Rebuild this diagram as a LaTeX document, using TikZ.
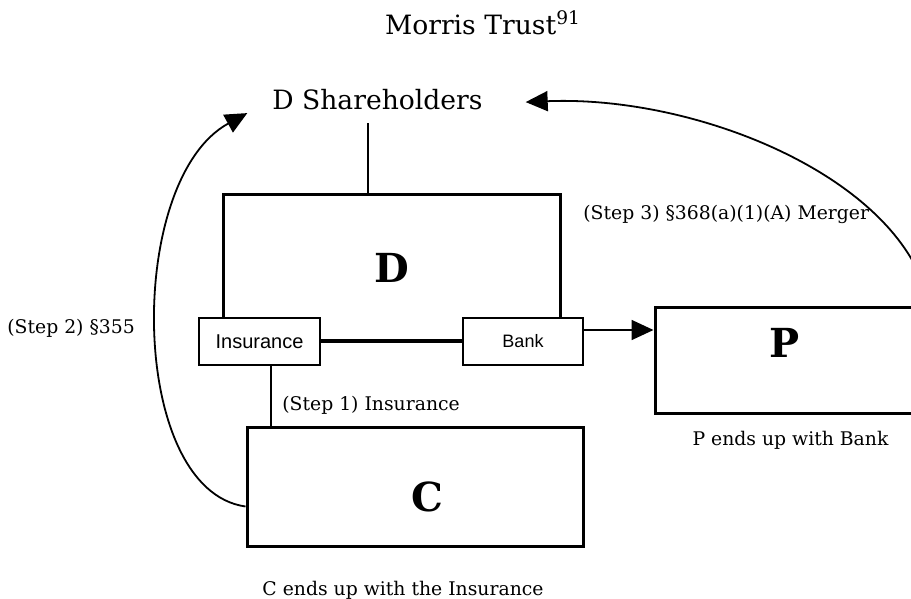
\documentclass[tikz,border=0pt]{standalone}
\usepackage{fontspec}
\setmainfont{DejaVu Serif}
\newfontfamily\boxfont{Liberation Sans}
\usetikzlibrary{arrows.meta}

\begin{document}
\begin{tikzpicture}[x=0.5pt, y=-0.5pt,
    entity/.style={draw, line width=1.5pt, minimum width=#1, inner sep=0pt},
    asset/.style={draw, line width=1pt, fill=white, minimum width=60.5pt,
      minimum height=23.5pt, inner sep=0pt, font=\boxfont},
    big/.style={font=\fontsize{20}{24}\selectfont\bfseries},
    note/.style={font=\fontsize{9.4}{11}\selectfont, inner sep=0pt},
    arr/.style={-{Triangle[length=11pt, width=10pt]}, line width=0.9pt},
  ]
    \useasboundingbox (0,0) rectangle (911,599);
    \clip (0,0) rectangle (911,599);

    \node[anchor=base, font=\fontsize{13.3}{16}\selectfont] (title) at (483,35) {Morris Trust\textsuperscript{91}};
    \node[anchor=base, font=\fontsize{13.3}{16}\selectfont] (dsh) at (377.5,110) {D Shareholders};

    \node[entity=168.5pt, minimum height=72.5pt, big] (D) at (391.5,267.5) {D};
    \node[asset, font=\boxfont\fontsize{10}{12}\selectfont] (ins) at (259.5,341.5) {Insurance};
    \node[asset, minimum width=60pt, font=\boxfont\fontsize{9}{11}\selectfont] (bank) at (523,341.5) {Bank};
    \node[entity=168pt, minimum height=59.5pt, label={[big, xshift=6pt, yshift=-5pt]center:C}] (C) at (415,486.5) {};
    \node[entity=130pt, minimum height=53pt, label={[big, yshift=8.5pt]center:P}] (P) at (785,360) {};

    \node[note, anchor=base west] (s1) at (282,410) {(Step 1) Insurance};
    \node[note, anchor=base west] (s2) at (7,333) {(Step 2) \S355};
    \node[note, anchor=base west] (s3) at (583,220) {(Step 3) \S368(a)(1)(A) Merger};
    \node[note, anchor=base] (pend) at (790.5,445) {P ends up with Bank};
    \node[note, anchor=base] (cend) at (403,595) {C ends up with the Insurance};

    % ownership lines
    \draw[line width=1pt] ([xshift=-4.75pt,yshift=-3pt]dsh.south) -- ([xshift=-4.75pt]dsh.south |- D.north);
    \draw[line width=1.5pt] (ins) -- (bank);
    \draw[line width=1pt] ([xshift=5.75pt]ins.south) -- ([xshift=5.75pt]ins.south |- C.north);
    \draw[arr] ([yshift=5.75pt]bank.east) -- ([yshift=5.75pt]bank.east -| P.west);

    % distribution and merger
    \coordinate (cout) at ([yshift=-10pt]C.west);
    \coordinate (ptop) at ([xshift=6.5pt]P.north east);
    \draw[arr] (cout) .. controls (128,490) and (125,180) .. ([xshift=-9pt,yshift=-6.5pt]dsh.west);
    \draw[arr] (ptop) .. controls (905,180) and (700,95) .. ([xshift=18pt,yshift=-1pt]dsh.east);
  \end{tikzpicture}
\end{document}
